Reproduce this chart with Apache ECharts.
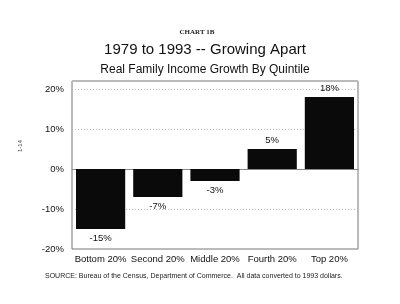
<!DOCTYPE html>
<html>
<head>
<meta charset="utf-8">
<script src="https://cdn.jsdelivr.net/npm/echarts@6/dist/echarts.min.js"></script>
<style>
  html, body { margin: 0; padding: 0; background: #fff; }
  #chart { width: 400px; height: 304px; }
</style>
</head>
<body>
<div id="chart"></div>
<script>
    // quintiles and growth 1979-1993 (percent)
    var categories = ['Bottom 20%', 'Second 20%', 'Middle 20%', 'Fourth 20%', 'Top 20%'];
    var growth = [-15, -7, -3, 5, 18];
    var yTicks = [-20, -10, 0, 10, 20];

    var myChart = echarts.init(document.getElementById('chart'));
    var option = {
        backgroundColor: '#fff',
        animation: false,
        title: [
            {
                text: 'CHART 1B',
                left: 192, top: 24, textAlign: 'center',
                textStyle: { fontFamily: 'Liberation Serif', fontSize: 7, fontWeight: 'bold', color: '#222' }
            },
            {
                text: '1979 to 1993 -- Growing Apart',
                left: 200, top: 37, textAlign: 'center',
                textStyle: { fontFamily: 'Liberation Sans', fontSize: 15, fontWeight: 'normal', color: '#111' }
            },
            {
                text: 'Real Family Income Growth By Quintile',
                left: 200, top: 59, textAlign: 'center',
                textStyle: { fontFamily: 'Liberation Sans', fontSize: 12, fontWeight: 'normal', color: '#111' }
            },
            {
                text: 'SOURCE: Bureau of the Census, Department of Commerce.  All data converted to 1993 dollars.',
                left: 40, top: 268,
                textStyle: { fontFamily: 'Liberation Sans', fontSize: 7, fontWeight: 'normal', color: '#222' }
            }
        ],
        graphic: [
            {
                type: 'text', x: 17, y: 152, rotation: Math.PI / 2,
                style: { text: '1-14', font: '6px Liberation Sans', fill: '#444' }
            }
        ],
        grid: {
            left: 72, right: 42, top: 81, bottom: 55,
            show: true, borderColor: '#777', borderWidth: 1
        },
        xAxis: {
            type: 'category',
            data: categories,
            axisLine: { onZero: true, lineStyle: { color: '#888', width: 1 } },
            axisTick: { show: false },
            axisLabel: {
                interval: 0, color: '#111', fontSize: 9.5,
                fontFamily: 'Liberation Sans', margin: 5
            },
            position: 'bottom'
        },
        yAxis: {
            type: 'value',
            min: -20, max: 22, interval: 10,
            axisLine: { show: false },
            axisTick: { show: false },
            axisLabel: {
                color: '#111', fontSize: 9.5, fontFamily: 'Liberation Sans', margin: 8,
                showMaxLabel: false,
                formatter: function (v) {
                    return yTicks.indexOf(v) >= 0 ? v + '%' : '';
                }
            },
            splitLine: {
                show: true,
                lineStyle: { color: '#bbb', type: [1, 2], width: 1 }
            }
        },
        series: [
            {
                type: 'bar',
                data: growth.map(function (v) {
                    return {
                        value: v,
                        label: { position: v < 0 ? 'bottom' : 'top' }
                    };
                }),
                barWidth: '86%',
                itemStyle: { color: '#0a0a0a' },
                label: {
                    show: true, color: '#111', fontSize: 9.5,
                    fontFamily: 'Liberation Sans', distance: 4,
                    formatter: function (p) { return p.value + '%'; }
                }
            }
        ]
    };
    myChart.setOption(option);
</script>
</body>
</html>
